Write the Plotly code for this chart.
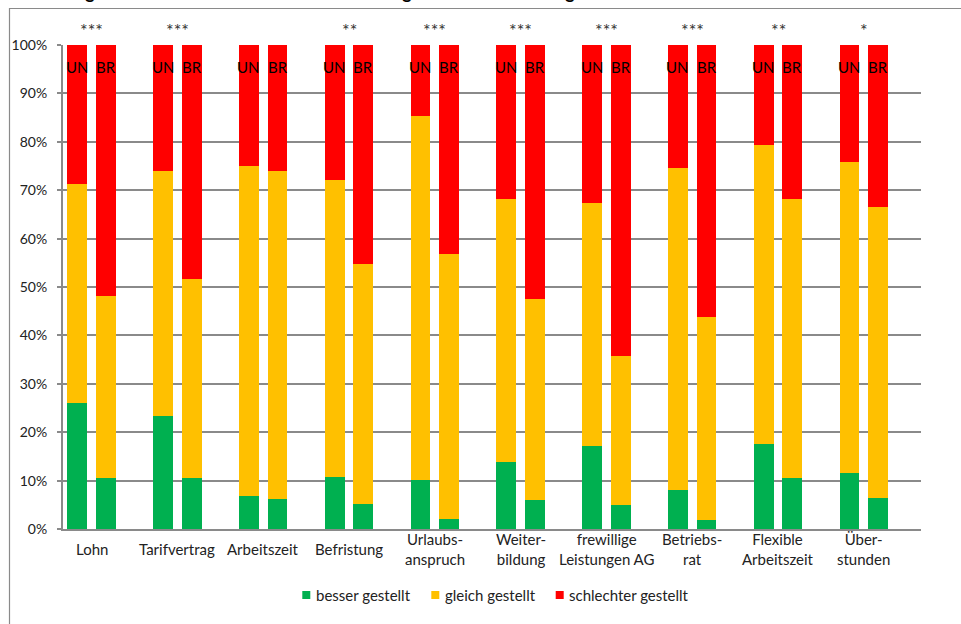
import plotly.graph_objects as go

# ---------------- data ----------------
categories = ["Lohn", "Tarifvertrag", "Arbeitszeit", "Befristung", "Urlaubs-<br>anspruch",
              "Weiter-<br>bildung", "frewillige<br>Leistungen AG", "Betriebs-<br>rat",
              "Flexible<br>Arbeitszeit", "Über-<br>stunden"]
significance = ["***", "***", "", "**", "***", "***", "***", "***", "**", "*"]
groups = ["UN", "BR"]

un_besser = [26.0, 23.4, 6.9, 10.8, 10.2, 13.8, 17.2, 8.0, 17.6, 11.6]
un_gleich = [45.3, 50.6, 68.2, 61.3, 75.2, 54.3, 50.2, 66.5, 61.8, 64.2]
un_schlechter = [28.7, 26.0, 24.9, 27.9, 14.6, 31.9, 32.6, 25.5, 20.6, 24.2]

br_besser = [10.6, 10.5, 6.1, 5.2, 2.1, 5.9, 4.9, 1.9, 10.5, 6.5]
br_gleich = [37.6, 41.2, 67.9, 49.5, 54.8, 41.6, 30.9, 41.9, 57.7, 60.0]
br_schlechter = [51.8, 48.3, 26.0, 45.3, 43.1, 52.5, 64.2, 56.2, 31.8, 33.5]

series_names = ["besser gestellt", "gleich gestellt", "schlechter gestellt"]
series_colors = ["#00B050", "#FFC000", "#FF0000"]

title_text = "Vergleich Leiharbeitnehmer mit Stammbelegschaft: Einschätzung durch Unternehmen und Betriebsräte"

FONT = "Lato, 'Noto Sans', sans-serif"

# ---------------- layout geometry ----------------
W, H = 961, 624
L, R, T, B = 63, 40, 45, 95
slot = 3  # UN, BR, gap
pw = W - L - R
ph = H - T - B


def px_x(px):
    return (px - L) / pw


def px_y(py):
    return (H - B - py) / ph


n = len(categories)
un_x = [slot * i for i in range(n)]
br_x = [slot * i + 1 for i in range(n)]

fig = go.Figure()
un_vals = [un_besser, un_gleich, un_schlechter]
br_vals = [br_besser, br_gleich, br_schlechter]
for name, color, uv, bv in zip(series_names, series_colors, un_vals, br_vals):
    fig.add_trace(go.Bar(
        x=un_x + br_x, y=uv + bv, name=name,
        marker=dict(color=color, line=dict(width=0)),
        width=0.69, hoverinfo="skip", showlegend=False,
    ))

annotations = []
for i, cat in enumerate(categories):
    annotations.append(dict(x=slot * i + 0.5, y=0, xref="x", yref="paper",
                            text=cat, showarrow=False, yanchor="middle", xanchor="center",
                            yshift=-20, font=dict(family=FONT, size=15, color="#222")))
    if significance[i]:
        annotations.append(dict(x=slot * i + 0.5, y=px_y(30), xref="x", yref="paper",
                                text=significance[i], showarrow=False, yanchor="middle",
                                font=dict(family=FONT, size=18, color="#333")))
    for j, g in enumerate(groups):
        annotations.append(dict(x=slot * i + j, y=95.5, xref="x", yref="y",
                                text=g, showarrow=False, yanchor="middle",
                                font=dict(family=FONT, size=15, color="#000")))

# legend (manual, to match the reference's compact spacing)
legend_left = [302.3, 431.3, 555.7]
shapes = []
for name, color, lx in zip(series_names, series_colors, legend_left):
    shapes.append(dict(type="rect", xref="paper", yref="paper",
                       x0=px_x(lx), x1=px_x(lx + 8), y0=px_y(599), y1=px_y(591),
                       line=dict(width=0), fillcolor=color))
    annotations.append(dict(x=px_x(lx + 11.5), y=px_y(595), xref="paper", yref="paper",
                            text=name, showarrow=False, xanchor="left", yanchor="middle",
                            font=dict(family=FONT, size=15, color="#222")))

# outer chart frame
shapes.append(dict(type="rect", xref="paper", yref="paper", x0=px_x(9.5), x1=1.2,
                   y0=-0.4, y1=px_y(8.5), line=dict(color="#8a8a8a", width=1.2),
                   fillcolor="rgba(0,0,0,0)", layer="below"))

fig.update_layout(
    width=W, height=H,
    margin=dict(l=L, r=R, t=T, b=B, pad=0),
    paper_bgcolor="white", plot_bgcolor="white",
    barmode="stack", showlegend=False,
    font=dict(family=FONT, size=15, color="#222"),
    title=dict(text="<b>" + title_text + "</b>", x=0.487, xanchor="center",
               xref="container", yref="container", y=1 - 2 / H, yanchor="bottom",
               pad=dict(b=3),
               font=dict(family=FONT, size=18, color="#000")),
    xaxis=dict(range=[-0.5, slot * n - 0.5], showticklabels=False, showgrid=False,
               zeroline=False, showline=True, linecolor="#8a8a8a", linewidth=2,
               ticks="", fixedrange=True),
    yaxis=dict(range=[0, 100], dtick=10, ticksuffix="%", showgrid=True,
               gridcolor="#8a8a8a", gridwidth=2, zeroline=False, showline=True,
               linecolor="#8a8a8a", linewidth=2, ticks="outside", ticklen=4,
               tickcolor="#8a8a8a", tickwidth=2, ticklabelstandoff=7,
               tickfont=dict(family=FONT, size=14, color="#222"), fixedrange=True),
    annotations=annotations,
    shapes=shapes,
)

fig.write_html("out.html", config={"displayModeBar": False},
               post_script="document.body.style.margin='0';document.body.style.overflow='hidden';")
